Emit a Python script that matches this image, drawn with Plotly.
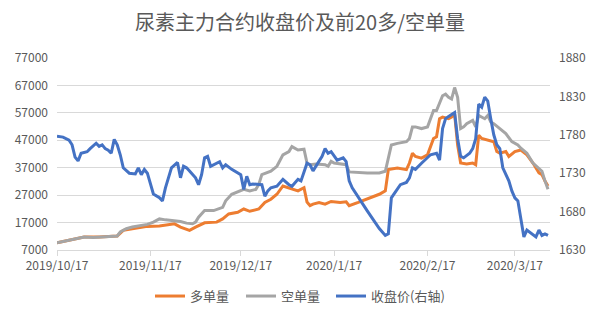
import plotly.graph_objects as go

# ---------------- data ----------------
long_dates = ["2019-10-17","2019-10-20","2019-10-23","2019-10-26","2019-10-31","2019-11-06","2019-11-08",
              "2019-11-11","2019-11-16","2019-11-20","2019-11-25","2019-11-27","2019-11-30","2019-12-02",
              "2019-12-05","2019-12-09","2019-12-11","2019-12-13","2019-12-16","2019-12-18","2019-12-20",
              "2019-12-23","2019-12-25","2019-12-27","2019-12-29","2019-12-31","2020-01-02","2020-01-05",
              "2020-01-07","2020-01-08","2020-01-09","2020-01-10","2020-01-12","2020-01-14","2020-01-16",
              "2020-01-19","2020-01-21","2020-01-22","2020-01-25","2020-01-28","2020-02-01","2020-02-03",
              "2020-02-04","2020-02-07","2020-02-10","2020-02-11","2020-02-12","2020-02-13","2020-02-15",
              "2020-02-17","2020-02-19","2020-02-20","2020-02-21","2020-02-22","2020-02-24","2020-02-25",
              "2020-02-26","2020-02-27","2020-02-28","2020-03-01","2020-03-03","2020-03-04","2020-03-05",
              "2020-03-06","2020-03-08","2020-03-10","2020-03-11","2020-03-12","2020-03-14","2020-03-15",
              "2020-03-17","2020-03-19","2020-03-21","2020-03-23","2020-03-25","2020-03-26","2020-03-27",
              "2020-03-28"]
long_vals = [9620,10340,11170,11770,11770,12130,14170,
             14750,15610,15720,16550,15360,14170,15360,
             16910,17160,18340,20140,20750,21940,21110,
             21940,24340,25520,27320,30340,29720,28540,
             29720,24500,23160,23730,24340,23730,24700,
             24340,24590,23160,24340,25520,27320,28540,
             36300,36900,36300,38700,42290,41100,40500,
             41680,47670,48290,54850,55440,54850,55440,
             56650,45270,38700,38340,38700,38090,48860,
             47670,47060,46490,42900,42290,42900,41100,
             42900,43470,41680,38700,35110,34500,32130,
             30340]

short_dates = ["2019-10-17","2019-10-20","2019-10-23","2019-10-26","2019-10-29","2019-11-01","2019-11-05",
               "2019-11-06","2019-11-07","2019-11-09","2019-11-11","2019-11-14","2019-11-16","2019-11-18",
               "2019-11-20","2019-11-22","2019-11-25","2019-11-27","2019-11-29","2019-12-01","2019-12-02",
               "2019-12-03","2019-12-05","2019-12-08","2019-12-11","2019-12-12","2019-12-14","2019-12-17",
               "2019-12-18","2019-12-20","2019-12-22","2019-12-23","2019-12-24","2019-12-27","2019-12-29",
               "2019-12-31","2020-01-02","2020-01-03","2020-01-05","2020-01-07","2020-01-08","2020-01-09",
               "2020-01-11","2020-01-14","2020-01-15","2020-01-16","2020-01-17","2020-01-21","2020-01-22",
               "2020-01-28","2020-02-01","2020-02-03","2020-02-04","2020-02-05","2020-02-07","2020-02-10",
               "2020-02-11","2020-02-12","2020-02-13","2020-02-15","2020-02-17","2020-02-18","2020-02-19",
               "2020-02-20","2020-02-22","2020-02-23","2020-02-24","2020-02-25","2020-02-26","2020-02-27",
               "2020-02-28","2020-02-29","2020-03-01","2020-03-03","2020-03-04","2020-03-05","2020-03-07",
               "2020-03-08","2020-03-09","2020-03-10","2020-03-12","2020-03-14","2020-03-16","2020-03-18",
               "2020-03-19","2020-03-21","2020-03-23","2020-03-25","2020-03-26","2020-03-27","2020-03-28"]
short_vals = [9620,10340,11170,11770,11520,11770,12030,
              12130,13570,14750,15360,15980,16330,17160,
              18340,17990,17770,17410,16800,16550,17160,
              18950,21360,21360,22550,24950,27320,28540,
              29110,28540,29110,30910,34500,35720,37520,
              41680,42900,44700,43470,43730,38700,38090,
              38340,38090,37520,39310,38700,38090,35470,
              35110,35110,35720,40500,45270,45880,46490,
              47670,51880,51880,51270,51880,54850,57830,
              57830,63220,63830,62640,62030,66240,62640,
              51270,51880,53060,54240,51880,56040,54850,
              56040,53670,53060,51270,49470,46490,45270,
              44090,42290,38700,36900,35720,32200,29110]

price_dates = ["2019-10-17","2019-10-19","2019-10-21","2019-10-22","2019-10-23","2019-10-24","2019-10-25",
               "2019-10-27","2019-10-28","2019-10-30","2019-10-31","2019-11-01","2019-11-02","2019-11-03",
               "2019-11-04","2019-11-05","2019-11-06","2019-11-07","2019-11-08","2019-11-10","2019-11-12",
               "2019-11-13","2019-11-14","2019-11-15","2019-11-16","2019-11-17","2019-11-18","2019-11-20",
               "2019-11-21","2019-11-22","2019-11-23","2019-11-24","2019-11-26","2019-11-27","2019-11-28",
               "2019-11-29","2019-11-30","2019-12-02","2019-12-03","2019-12-04","2019-12-05","2019-12-06",
               "2019-12-07","2019-12-08","2019-12-10","2019-12-11","2019-12-12","2019-12-14","2019-12-16",
               "2019-12-17","2019-12-18","2019-12-19","2019-12-20","2019-12-21","2019-12-24","2019-12-25",
               "2019-12-26","2019-12-27","2019-12-29","2019-12-31","2020-01-02","2020-01-03","2020-01-05",
               "2020-01-06","2020-01-08","2020-01-09","2020-01-10","2020-01-11","2020-01-13","2020-01-14",
               "2020-01-15","2020-01-16","2020-01-17","2020-01-18","2020-01-20","2020-01-21","2020-01-22",
               "2020-01-23","2020-01-28","2020-02-01","2020-02-03","2020-02-04","2020-02-05","2020-02-07",
               "2020-02-08","2020-02-10","2020-02-11","2020-02-12","2020-02-13","2020-02-15","2020-02-17",
               "2020-02-18","2020-02-20","2020-02-21","2020-02-22","2020-02-23","2020-02-24","2020-02-25",
               "2020-02-26","2020-02-27","2020-02-28","2020-02-29","2020-03-02","2020-03-03","2020-03-04",
               "2020-03-05","2020-03-06","2020-03-07","2020-03-08","2020-03-09","2020-03-10","2020-03-11",
               "2020-03-12","2020-03-13","2020-03-14","2020-03-15","2020-03-16","2020-03-17","2020-03-18",
               "2020-03-19","2020-03-20","2020-03-21","2020-03-22","2020-03-24","2020-03-25","2020-03-26",
               "2020-03-27","2020-03-28"]
price_vals = [1778,1777,1773,1767,1751,1746,1756,
              1758,1762,1769,1765,1767,1762,1760,
              1756,1774,1767,1754,1737,1730,1729,
              1737,1728,1735,1730,1715,1703,1698,
              1694,1711,1724,1737,1744,1724,1739,
              1737,1733,1724,1715,1728,1750,1752,
              1739,1741,1745,1737,1741,1735,1730,
              1728,1709,1726,1715,1716,1715,1700,
              1707,1711,1713,1722,1715,1713,1722,
              1720,1743,1741,1733,1739,1752,1762,
              1756,1758,1752,1747,1750,1745,1720,
              1711,1681,1658,1649,1651,1698,1709,
              1715,1718,1724,1737,1735,1743,1750,
              1754,1756,1747,1788,1801,1804,1807,
              1809,1775,1752,1750,1756,1762,1775,
              1820,1816,1829,1824,1801,1780,1767,
              1762,1737,1728,1720,1707,1698,1694,
              1668,1647,1656,1653,1647,1656,1649,
              1651,1649]

tick_dates = ["2019-10-17","2019-11-17","2019-12-17","2020-01-17","2020-02-17","2020-03-17"]
tick_text = ["2019/10/17","2019/11/17","2019/12/17","2020/1/17","2020/2/17","2020/3/17"]

names = ["多单量", "空单量", "收盘价(右轴)"]
title_text = "尿素主力合约收盘价及前20多/空单量"

# ---------------- figure ----------------
FONT = "Noto Sans CJK SC"
TXT = "#595959"
GRID = "#D9D9D9"

fig = go.Figure()
fig.add_trace(go.Scatter(x=long_dates, y=long_vals, name=names[0], mode="lines",
                         line=dict(color="#ED7D31", width=3), legend="legend"))
fig.add_trace(go.Scatter(x=short_dates, y=short_vals, name=names[1], mode="lines",
                         line=dict(color="#A5A5A5", width=3), legend="legend2"))
fig.add_trace(go.Scatter(x=price_dates, y=price_vals, name=names[2], mode="lines",
                         line=dict(color="#4472C4", width=3), yaxis="y2", legend="legend3"))

def leg(xpix):
    return dict(orientation="h", x=(xpix - 57) / 493, xanchor="left", y=-0.24, yanchor="middle",
                font=dict(family=FONT, size=13, color=TXT), itemwidth=30,
                bgcolor="rgba(0,0,0,0)")

fig.update_layout(
    width=600, height=323,
    margin=dict(l=57, r=50, t=58, b=70),
    paper_bgcolor="white", plot_bgcolor="white",
    font=dict(family=FONT, size=12, color=TXT),
    title=dict(text=title_text, x=0.5, xanchor="center", y=1 - 23 / 323, yanchor="middle",
               font=dict(family=FONT, size=20, color=TXT)),
    showlegend=True,
    legend=leg(150), legend2=leg(241), legend3=leg(331),
    xaxis=dict(type="date", range=["2019-10-17", "2020-03-28 16:00"],
               tickmode="array", tickvals=tick_dates, ticktext=tick_text,
               showgrid=False, showline=True, linecolor=GRID, linewidth=1,
               ticks="outside", ticklen=5, tickcolor=GRID,
               tickfont=dict(family=FONT, size=12, color=TXT), zeroline=False),
    yaxis=dict(range=[7000, 77000], dtick=10000, tick0=7000, tickformat="d",
               showgrid=True, gridcolor=GRID, gridwidth=1, zeroline=False,
               showline=False, ticks="", ticklabelstandoff=8,
               tickfont=dict(family=FONT, size=12, color=TXT)),
    yaxis2=dict(range=[1630, 1880], dtick=50, tick0=1630, overlaying="y", side="right",
                showgrid=False, zeroline=False, showline=False, ticks="", ticklabelstandoff=8,
                tickfont=dict(family=FONT, size=12, color=TXT)),
)

fig.write_html("out.html")
